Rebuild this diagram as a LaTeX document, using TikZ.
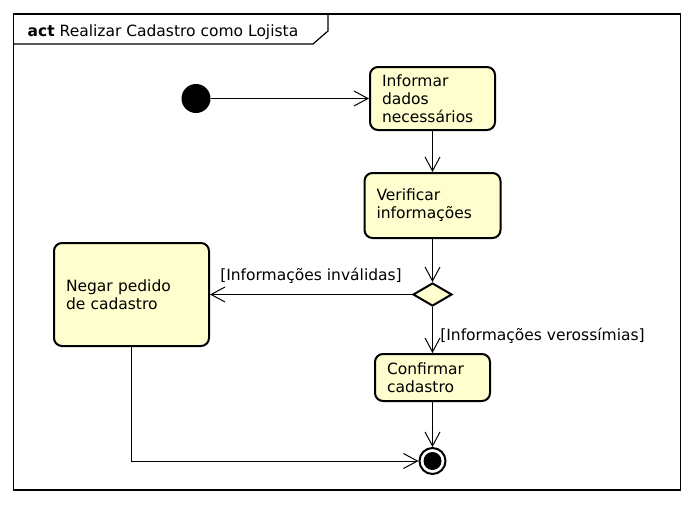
\documentclass[tikz,border=0pt]{standalone}
\usepackage{fontspec}
\setmainfont{DejaVu Sans}
\usetikzlibrary{arrows.meta,positioning,shapes.geometric}
\definecolor{actfill}{HTML}{FEFECE}

\begin{document}
\begin{tikzpicture}[x=1pt, y=-1pt, font=\fontsize{15.5pt}{18pt}\selectfont,
        activity/.style = {draw, line width=2pt, rounded corners=8pt, fill=actfill, align=left, inner xsep=12pt, inner ysep=0pt},
        choice/.style = {draw, diamond, line width=2pt, fill=actfill, minimum width=39pt, minimum height=23pt, inner sep=0pt},
        startnode/.style = {circle, fill=black, minimum size=29pt, inner sep=0pt},
        stopnode/.style = {circle, draw, line width=2pt, fill=white, minimum size=26pt, inner sep=0pt,
            path picture={\fill[black] (path picture bounding box.center) circle (9pt);}},
        flow/.style = {line width=1pt, -{Straight Barb[length=14pt, width=15pt]}}]
        \useasboundingbox (0,0) rectangle (693,504);

        % frame
        \draw[line width=1.2pt] (13.5,14) rectangle (680.5,490);
        \draw[line width=1.2pt] (13.5,44) -- (313,44) -- (328,31) -- (328,14);
        \node[anchor=base west, inner sep=0pt] (title) at (27.5,36) {\textbf{act} Realizar Cadastro como Lojista};

        \node[startnode] (start) at (196,98.5) {};
        \node[activity, text width=101pt, minimum height=63pt] (info) at (432.5,98.5) {Informar\\dados\\necessários};
        \node[activity, text width=112pt, minimum height=65pt, below=41pt of info] (check) {Verificar\\informações};
        \node[choice, below=43pt of check] (gate) {};
        \node[activity, text width=131pt, minimum height=103pt, left=202pt of gate] (deny) {Negar pedido\\de cadastro};
        \node[activity, text width=91pt, minimum height=47pt, below=46pt of gate] (confirm) {Confirmar\\cadastro};
        \node[stopnode, below=45pt of confirm] (stop) {};

        \draw[flow] (start) -- (info);
        \draw[flow] (info) -- (check);
        \draw[flow] (check) -- (gate);
        \draw[flow] (gate) -- node[above=7pt] {[Informações inválidas]} (deny);
        \draw[flow] (gate) -- node[right=4pt, yshift=-6pt] {[Informações verossímias]} (confirm);
        \draw[flow] (confirm) -- (stop);
        \draw[flow] (deny) |- (stop);

    \end{tikzpicture}
\end{document}
